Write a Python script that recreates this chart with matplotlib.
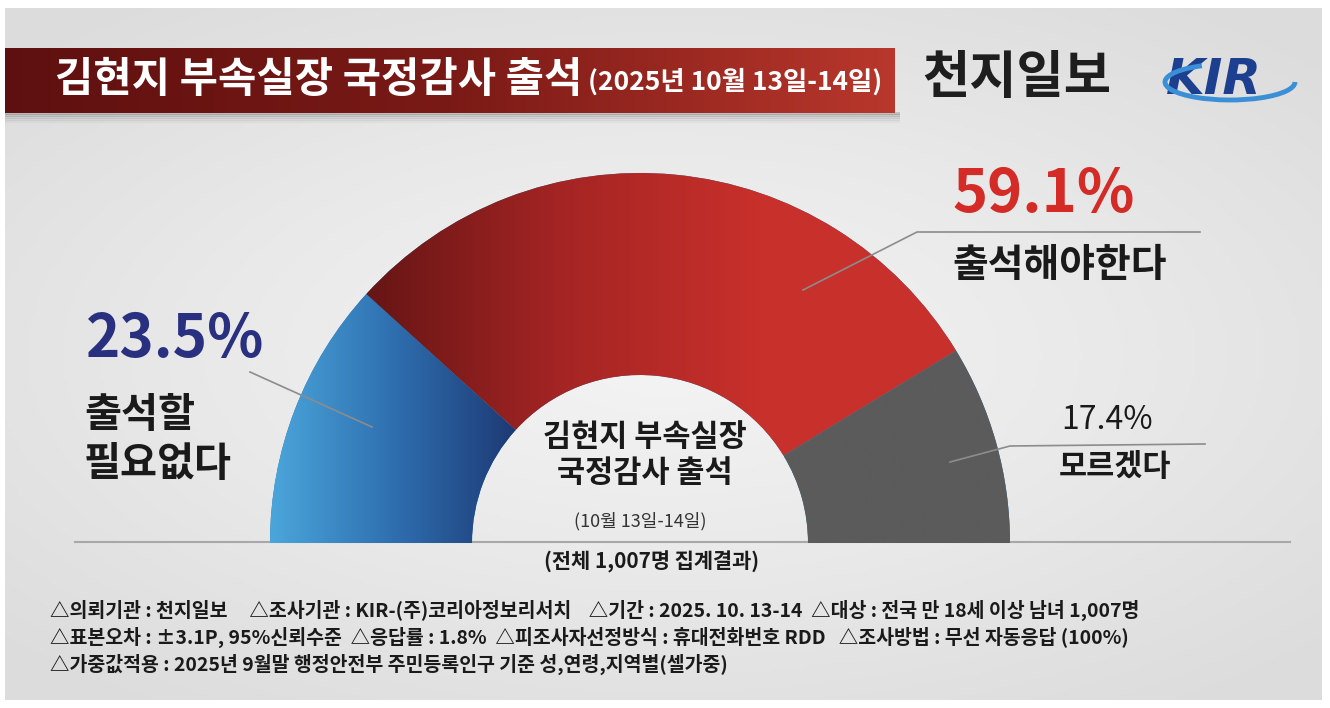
import numpy as np
import matplotlib.pyplot as plt
from matplotlib.patches import Wedge, Rectangle, Arc
from matplotlib.colors import LinearSegmentedColormap

plt.rcParams['font.family'] = ['Noto Sans CJK KR', 'DejaVu Sans']

W, H = 1330, 708

# 데이터
categories = ['출석할\n필요없다', '출석해야한다', '모르겠다']
values = [23.5, 59.1, 17.4]
pct_labels = ['23.5%', '59.1%', '17.4%']

title = '김현지 부속실장 국정감사 출석'
subtitle = '(2025년 10월 13일-14일)'
center_title = '김현지 부속실장\n국정감사 출석'
center_date = '(10월 13일-14일)'
total_note = '(전체 1,007명 집계결과)'
footnotes = [
    '△의뢰기관 : 천지일보     △조사기관 : KIR-(주)코리아정보리서치    △기간 : 2025. 10. 13-14  △대상 : 전국 만 18세 이상 남녀 1,007명',
    '△표본오차 : ±3.1P, 95%신뢰수준  △응답률 : 1.8%  △피조사자선정방식 : 휴대전화번호 RDD   △조사방법 : 무선 자동응답 (100%)',
    '△가중값적용 : 2025년 9월말 행정안전부 주민등록인구 기준 성,연령,지역별(셀가중)',
]


def Y(py):
    # 픽셀 좌표(위에서 아래) -> 축 좌표
    return H - py


fig = plt.figure(figsize=(13.3, 7.08), dpi=100)
fig.patch.set_facecolor('white')
ax = fig.add_axes([0, 0, 1, 1])
ax.set_xlim(0, W)
ax.set_ylim(0, H)
ax.axis('off')

# 배경 (방사형 회색 그라데이션)
gx, gy = np.meshgrid(np.linspace(-1, 1, 400), np.linspace(-1, 1, 220))
rad = np.sqrt(gx ** 2 + (gy * 1.1) ** 2)
bg_cmap = LinearSegmentedColormap.from_list('bg', ['#f4f4f4', '#e9e9e9', '#dcdcdc'])
ax.imshow(rad, cmap=bg_cmap, extent=[5, 1322, Y(700), Y(8)], aspect='auto',
          origin='lower', zorder=0, vmin=0, vmax=1.4)

# 제목 배너 그림자
for i, a in enumerate([0.16, 0.12, 0.08, 0.05, 0.03]):
    ax.add_patch(Rectangle((5, Y(113 + 2 * i + 2)), 895, 3, color='black', alpha=a, lw=0, zorder=1))
banner = Rectangle((5, Y(113)), 890, 65, lw=0, zorder=2)
ax.add_patch(banner)
ban_cmap = LinearSegmentedColormap.from_list('ban', ['#5e1010', '#7a1a16', '#b9372c'])
im = ax.imshow(np.linspace(0, 1, 256)[None, :], cmap=ban_cmap, extent=[5, 895, Y(113), Y(48)],
               aspect='auto', zorder=3)
im.set_clip_path(banner)

ax.text(55, Y(80), title, color='white', fontsize=30, fontweight='bold', va='center', ha='left', zorder=4)
ax.text(588, Y(82), subtitle, color='white', fontsize=19, fontweight='bold', va='center', ha='left', zorder=4)

# 로고
ax.text(922, Y(78), '천지일보', color='#1e1e1e', fontsize=37, fontweight='bold', va='center', ha='left')
ax.text(1166, Y(80), 'KIR', color='#1d3f8f', fontsize=36, fontweight='heavy', fontstyle='italic',
        family='DejaVu Sans', va='center', ha='left')
ax.add_patch(Arc((1230, Y(82)), 130, 36, theta1=150, theta2=360, color='#3a8fd6', lw=3.5, zorder=5))

# 반원 도넛
cx, cy = 640, Y(543)
r_out, r_in = 370, 168
cmaps = [
    LinearSegmentedColormap.from_list('b', ['#4ba6db', '#2f6fb0', '#1d3a74']),
    LinearSegmentedColormap.from_list('r', ['#661515', '#a52524', '#c8302b', '#c9312b']),
    LinearSegmentedColormap.from_list('g', ['#5b5b5b', '#5b5b5b']),
]
angle = 180.0
for v, cm in zip(values, cmaps):
    span = v / sum(values) * 180.0
    t1, t2 = angle - span, angle
    w = Wedge((cx, cy), r_out, t1, t2, width=r_out - r_in, lw=0, zorder=6)
    ax.add_patch(w)
    xs = [cx + r * np.cos(np.radians(t)) for r in (r_in, r_out) for t in np.linspace(t1, t2, 50)]
    x0, x1 = min(xs), max(xs)
    g = ax.imshow(np.linspace(0, 1, 256)[None, :], cmap=cm, extent=[x0, x1, cy, cy + r_out],
                  aspect='auto', zorder=6)
    g.set_clip_path(w)
    angle = t1

ax.set_xlim(0, W)
ax.set_ylim(0, H)

# 기준선
ax.plot([75, 1290], [Y(542), Y(542)], color='#a8a8a8', lw=1.5, zorder=5)

# 지시선
lc = '#8c8c8c'
ax.plot([250, 372], [Y(372), Y(427)], color=lc, lw=1.2, zorder=7)
ax.plot([803, 917, 1200], [Y(290), Y(232), Y(232)], color=lc, lw=1.2, zorder=7)
ax.plot([950, 1010, 1205], [Y(462), Y(446), Y(444)], color=lc, lw=1.2, zorder=7)

# 라벨
ax.text(86, Y(340), pct_labels[0], color='#28307f', fontsize=42, fontweight='bold', va='center', ha='left', zorder=8)
ax.text(84, Y(440), categories[0], color='#1a1a1a', fontsize=29, fontweight='bold', va='center', ha='left',
        linespacing=1.25, zorder=8)
ax.text(952, Y(195), pct_labels[1], color='#d42b27', fontsize=43, fontweight='bold', va='center', ha='left', zorder=8)
ax.text(952, Y(265), categories[1], color='#1a1a1a', fontsize=28, fontweight='bold', va='center', ha='left', zorder=8)
ax.text(1061, Y(420), pct_labels[2], color='#1a1a1a', fontsize=23, va='center', ha='left', zorder=8)
ax.text(1059, Y(467), categories[2], color='#1a1a1a', fontsize=22, fontweight='bold', va='center', ha='left', zorder=8)

# 가운데 텍스트
ax.text(645, Y(455), center_title, color='#1a1a1a', fontsize=22, fontweight='bold', ha='center', va='center',
        linespacing=1.15, zorder=8)
ax.text(640, Y(521), center_date, color='#333333', fontsize=13, ha='center', va='center', zorder=8)
ax.text(652, Y(562), total_note, color='#1a1a1a', fontsize=15, fontweight='bold', ha='center', va='center', zorder=8)

# 주석
for i, line in enumerate(footnotes):
    ax.text(50, Y(610 + 27 * i), line, color='#1a1a1a', fontsize=14, fontweight='bold',
            ha='left', va='center', zorder=8)

fig.savefig('out.png', dpi=100, facecolor=fig.get_facecolor())
